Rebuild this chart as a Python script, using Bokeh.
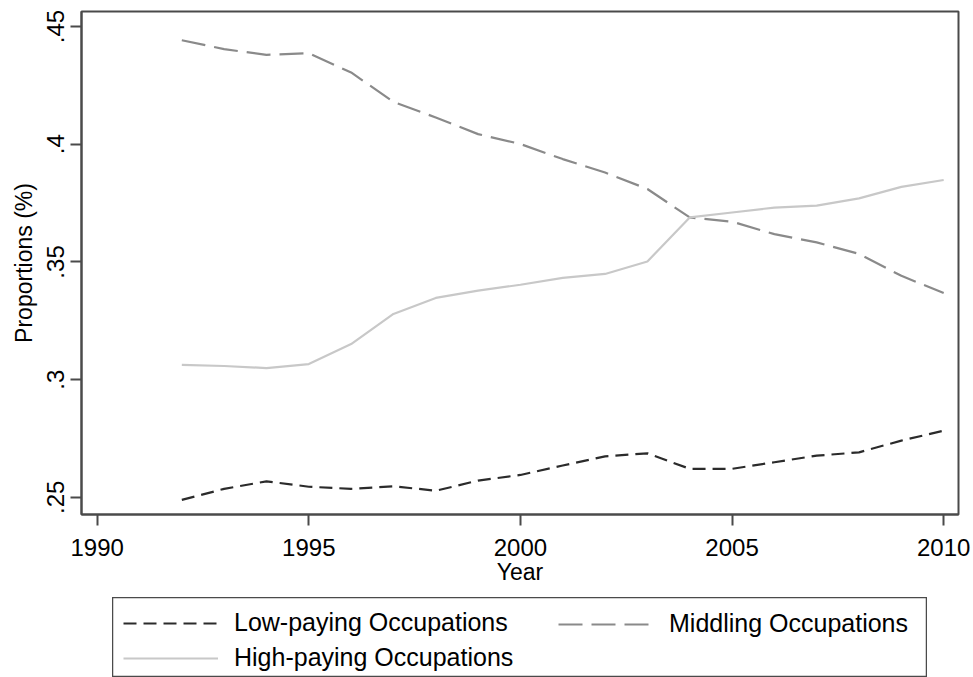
from bokeh.plotting import figure
from bokeh.models import FixedTicker, Range1d, Legend, LegendItem, ColumnDataSource, Spacer
from bokeh.layouts import column, row
from bokeh.embed import file_html
from bokeh.resources import INLINE

years = list(range(1992, 2011))
low_paying = [0.2489, 0.2536, 0.2568, 0.2545, 0.2536, 0.2547, 0.2528, 0.2571, 0.2595,
              0.2635, 0.2674, 0.2687, 0.2621, 0.2621, 0.2649, 0.2677, 0.2691, 0.2741, 0.2783]
middling = [0.4442, 0.4404, 0.4380, 0.4387, 0.4305, 0.4180, 0.4114, 0.4043, 0.4001,
            0.3937, 0.3880, 0.3810, 0.3689, 0.3671, 0.3618, 0.3583, 0.3534, 0.3441, 0.3368]
high_paying = [0.3063, 0.3058, 0.3049, 0.3066, 0.3151, 0.3279, 0.3347, 0.3378, 0.3403,
               0.3432, 0.3449, 0.3502, 0.3689, 0.3710, 0.3731, 0.3739, 0.3770, 0.3819, 0.3848]

x_ticks = [1990, 1995, 2000, 2005, 2010]
y_ticks = [0.25, 0.30, 0.35, 0.40, 0.45]
y_tick_labels = [".25", ".3", ".35", ".4", ".45"]

FONT = "Liberation Sans"
FRAME = "#4a4a4a"
STYLES = {
    "low": dict(line_color="#2b2b2b", line_width=2.2, line_dash="13 7"),
    "mid": dict(line_color="#8a8a8a", line_width=2.2, line_dash="24 9"),
    "high": dict(line_color="#c8c8c8", line_width=2.2),
}

src = ColumnDataSource(dict(year=years, low=low_paying, mid=middling, high=high_paying))

p = figure(width=973, height=597, output_backend="svg", toolbar_location=None,
           x_range=Range1d(1989.63, 2010.35), y_range=Range1d(0.2427, 0.4564),
           min_border_left=81, min_border_right=15, min_border_top=11, min_border_bottom=83)
p.background_fill_color = "white"
p.border_fill_color = "white"
p.outline_line_color = FRAME
p.outline_line_width = 2
p.xgrid.visible = False
p.ygrid.visible = False

for key in ("low", "mid", "high"):
    p.line("year", key, source=src, **STYLES[key])

for ax in (p.xaxis[0], p.yaxis[0]):
    ax.axis_line_color = FRAME
    ax.axis_line_width = 2
    ax.major_tick_line_color = FRAME
    ax.major_tick_line_width = 2
    ax.major_tick_in = 0
    ax.major_tick_out = 11
    ax.minor_tick_line_color = None
    ax.major_label_text_font = FONT
    ax.major_label_text_font_size = "24px"
    ax.major_label_text_color = "black"
    ax.axis_label_text_font = FONT
    ax.axis_label_text_font_size = "23px"
    ax.axis_label_text_font_style = "normal"
    ax.axis_label_text_color = "black"

p.xaxis.ticker = FixedTicker(ticks=x_ticks)
p.xaxis.axis_label = "Year"
p.xaxis.major_label_standoff = 13
p.xaxis.axis_label_standoff = 0

p.yaxis.ticker = FixedTicker(ticks=y_ticks)
p.yaxis.major_label_overrides = {t: l for t, l in zip(y_ticks, y_tick_labels)}
p.yaxis.major_label_orientation = "vertical"
p.yaxis.axis_label = "Proportions (%)"
p.yaxis.major_label_standoff = 6
p.yaxis.axis_label_standoff = 8

# Legend panel: a separate figure whose outline forms the legend box.
lg = figure(width=815, height=80, output_backend="svg", toolbar_location=None,
            x_range=Range1d(0, 1), y_range=Range1d(0, 1),
            x_axis_type=None, y_axis_type=None, min_border=0)
lg.outline_line_color = FRAME
lg.outline_line_width = 1.5
lg.xgrid.visible = False
lg.ygrid.visible = False
lr = {key: lg.line("year", key, source=src, **STYLES[key]) for key in ("low", "mid", "high")}


def style_legend(leg, margin):
    leg.label_text_font = FONT
    leg.label_text_font_size = "25px"
    leg.label_text_color = "black"
    leg.glyph_width = 95
    leg.glyph_height = 20
    leg.label_standoff = 16
    leg.spacing = 6
    leg.padding = 0
    leg.margin = margin
    leg.border_line_color = None
    leg.background_fill_alpha = 0


leg_a = Legend(items=[
    LegendItem(label="Low-paying Occupations", renderers=[lr["low"]]),
    LegendItem(label="High-paying Occupations", renderers=[lr["high"]]),
], location="top_left")
style_legend(leg_a, 11)
lg.add_layout(leg_a, "center")

leg_b = Legend(items=[
    LegendItem(label="Middling Occupations", renderers=[lr["mid"]]),
], location=(446, 39))
style_legend(leg_b, 0)
lg.add_layout(leg_b, "center")

layout = column(p, row(Spacer(width=112, height=80), lg))
open("out.html", "w").write(file_html(layout, INLINE))
